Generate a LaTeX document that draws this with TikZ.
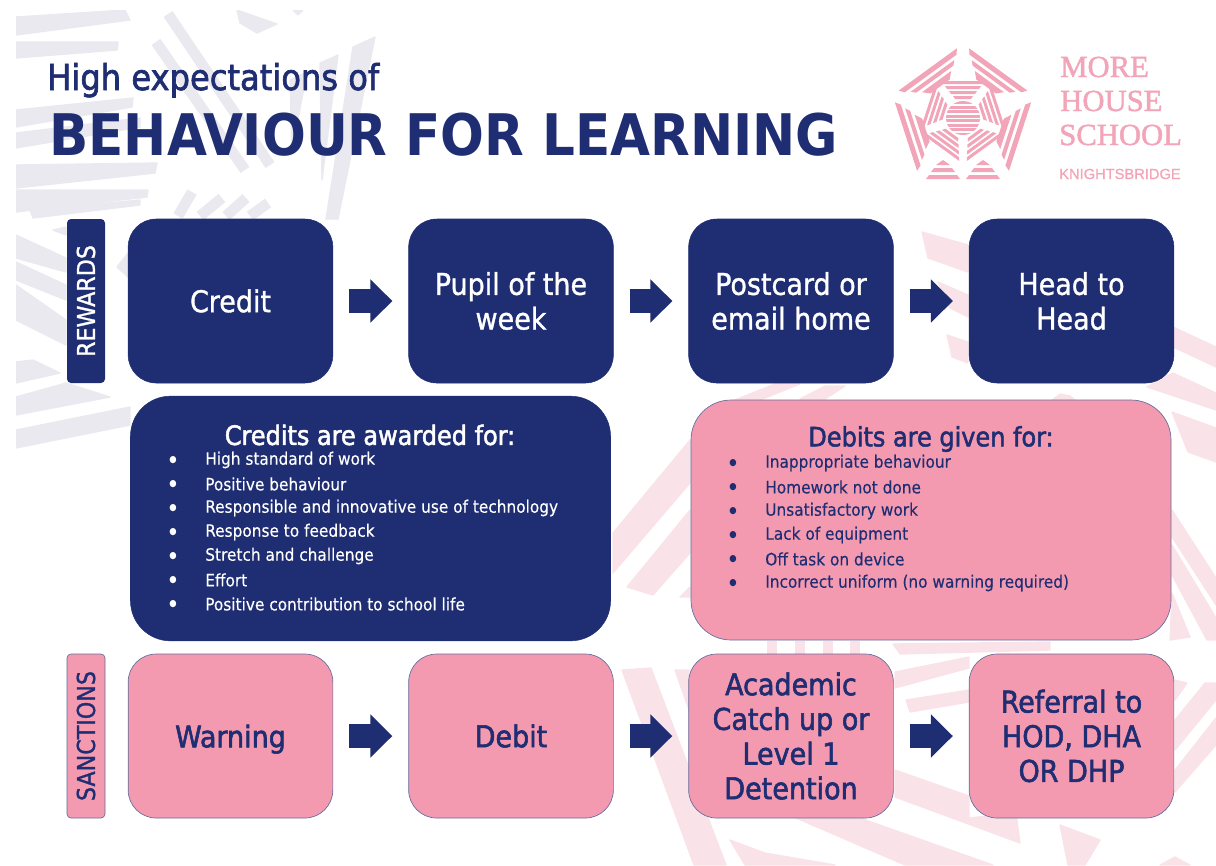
\documentclass[tikz,border=0pt]{standalone}
\usepackage{fontspec}
\setmainfont{DejaVu Sans Condensed}
\newfontfamily\medf{DejaVu Sans Condensed}[FakeBold=1.1]
\newfontfamily\heavyf{DejaVu Sans Condensed}[FakeBold=1.9]
\newfontfamily\lightf{DejaVu Sans Condensed}[FakeBold=0.25]
\newfontfamily\logoserif{Liberation Serif}[FakeBold=1.5]
\newfontfamily\logosans{Liberation Sans}[FakeBold=1]
\usetikzlibrary{arrows.meta}
\definecolor{navy}{HTML}{1F2D72}
\definecolor{rose}{HTML}{F49AB0}
\definecolor{wmgrey}{HTML}{E9E9EF}
\definecolor{wmpink}{HTML}{F9E3E8}
\definecolor{logopink}{HTML}{F2A5B8}
\tikzset{x=0.75pt,y=-0.75pt,
  navybox/.style={draw=navy,fill=navy,text=white,rounded corners=21pt,minimum width=153.5pt,minimum height=123pt,inner sep=0pt,align=center,font=\medf\fontsize{22.5}{26}\selectfont},
  rosebox/.style={draw=navy!70,line width=.5pt,fill=rose,text=navy,rounded corners=21pt,minimum width=153.5pt,minimum height=123pt,inner sep=0pt,align=center,font=\heavyf\fontsize{22.5}{26}\selectfont},
  tagbox/.style={rounded corners=3pt,minimum width=123pt,minimum height=28.5pt,inner sep=0pt,rotate=90,font=\medf\fontsize{18.5}{22}\selectfont},
  flow/.style={draw=navy,line width=18pt,shorten <=12pt,shorten >=12pt,-{Triangle[length=16.5pt,width=31.5pt]}},
  wmgl/.style={draw=wmgrey,line width=8pt},
  wmgf/.style={fill=wmgrey,draw=wmgrey,line width=1pt,line join=round},
  wmpl/.style={draw=wmpink,line width=8pt},
  wmpf/.style={fill=wmpink,draw=wmpink,line width=1pt,line join=round},
  listw/.style={anchor=west,text=white,inner sep=0pt,font=\lightf\fontsize{12.8}{15}\selectfont},
  listn/.style={anchor=west,text=navy,inner sep=0pt,font=\lightf\fontsize{12.8}{15}\selectfont},
  bulw/.style={text=white,inner sep=0pt,font=\fontsize{7}{8}\selectfont},
  buln/.style={text=navy,inner sep=0pt,font=\fontsize{7}{8}\selectfont},
  headw/.style={text=white,inner sep=0pt,font=\heavyf\fontsize{20}{22}\selectfont},
  headn/.style={text=navy,inner sep=0pt,font=\heavyf\fontsize{20}{22}\selectfont},
  logostripe/.style={fill=logopink,draw=none},
  logotext/.style={anchor=base west,text=logopink,inner sep=0pt}
}
\begin{document}
\begin{tikzpicture}
\useasboundingbox (0,0) rectangle (1216,865);
% watermark
\begin{scope}
\clip (16,10) rectangle (1216,865);
% grey bands
\fill[wmgf] (16,17) -- (125,10) -- (130,20) -- (16,35) -- cycle;
\fill[wmgf] (16,42) -- (118,42) -- (117,50) -- (16,58) -- cycle;
\fill[wmgf] (16,110) -- (133,98) -- (132,107) -- (16,127) -- cycle;
\fill[wmgf] (16,133) -- (140,118) -- (140,127) -- (16,148) -- cycle;
\fill[wmgf] (16,165) -- (157,163) -- (155,173) -- (16,188) -- cycle;
\fill[wmgf] (16,190) -- (148,190) -- (147,197) -- (16,212) -- cycle;
\fill[wmgf] (30,210) -- (140,200) -- (140,205) -- (33,218) -- cycle;
\fill[wmgf] (53,230) -- (66,227) -- (66,235) -- cycle;
\fill[wmgf] (16,235) -- (66,258) -- (66,272) -- (16,258) -- cycle;
\fill[wmgf] (16,262) -- (66,285) -- (66,300) -- (16,280) -- cycle;
\fill[wmgf] (16,285) -- (66,320) -- (66,345) -- (16,320) -- cycle;
\fill[wmgf] (16,362) -- (33,360) -- (60,373) -- (16,383) -- cycle;
\fill[wmgf] (16,397) -- (66,383) -- (110,397) -- (16,415) -- cycle;
\fill[wmgf] (16,430) -- (130,407) -- (130,425) -- (16,448) -- cycle;
\fill[wmgf] (117,267) -- (128,253) -- (128,277) -- cycle;
\fill[wmgf] (237,10) -- (277,24) -- (257,33) -- (240,23) -- cycle;
\fill[wmgf] (293,10) -- (303,10) -- (298,15) -- cycle;
\fill[wmgf] (353,47) -- (375,37) -- (338,219) -- (326,219) -- cycle;
\fill[wmgf] (320,63) -- (338,55) -- (322,180) -- cycle;
\fill[wmgf] (290,80) -- (307,72) -- (292,150) -- cycle;
\foreach \a/\b/\c/\d in {168/14/270/165, 156/42/245/170, 178/216/192/192, 200/216/222/198, 226/216/246/198, 250/216/268/203}
  \draw[wmgl] (\a,\b) -- (\c,\d);
% pink bands
\fill[wmpf] (922,232) -- (928,258) -- (968,272) -- (968,245) -- cycle;
\fill[wmpf] (1173,327) -- (1216,347) -- (1216,367) -- (1173,347) -- cycle;
\fill[wmpf] (947,335) -- (952,357) -- (968,363) -- (968,342) -- cycle;
\fill[wmpf] (938,282) -- (968,295) -- (968,317) -- (950,308) -- cycle;
\fill[wmpf] (1173,373) -- (1216,393) -- (1216,410) -- (1147,387) -- cycle;
\fill[wmpf] (1172,412) -- (1216,428) -- (1216,462) -- (1188,452) -- cycle;
\fill[wmpf] (613,533) -- (690,440) -- (690,483) -- (613,573) -- cycle;
\fill[wmpf] (627,587) -- (653,595) -- (690,553) -- (690,510) -- cycle;
\fill[wmpf] (680,597) -- (690,587) -- (690,597) -- cycle;
\fill[wmpf] (1172,510) -- (1216,578) -- (1216,605) -- (1172,537) -- cycle;
\fill[wmpf] (1172,545) -- (1216,618) -- (1216,640) -- (1207,640) -- (1172,575) -- cycle;
\fill[wmpf] (1172,593) -- (1190,637) -- (1170,640) -- cycle;
\fill[wmpf] (1175,680) -- (1187,683) -- (1175,700) -- cycle;
\fill[wmpf] (1175,720) -- (1205,683) -- (1216,683) -- (1216,700) -- (1175,750) -- cycle;
\fill[wmpf] (1175,770) -- (1216,718) -- (1216,745) -- (1175,792) -- cycle;
\fill[wmpf] (622,670) -- (651,668) -- (726,865) -- (694,865) -- cycle;
\fill[wmpf] (675,670) -- (689,670) -- (689,710) -- cycle;
\fill[wmpf] (730,840) -- (765,853) -- (835,865) -- (745,865) -- cycle;
\fill[wmpf] (796,818) -- (860,818) -- (993,865) -- (905,865) -- cycle;
\fill[wmpf] (895,770) -- (969,796) -- (969,818) -- (1016,813) -- (1020,843) -- (895,797) -- cycle;
\fill[wmpf] (895,672) -- (969,657) -- (969,668) -- (895,688) -- cycle;
\fill[wmpf] (906,700) -- (969,690) -- (969,702) -- (910,712) -- cycle;
\fill[wmpf] (893,644) -- (1050,642) -- (1050,650) -- (900,654) -- cycle;
\fill[wmpf] (1060,825) -- (1100,840) -- (1085,865) -- (1068,865) -- cycle;
\fill[wmpf] (1175,857) -- (1190,865) -- (1160,865) -- cycle;
\fill[wmpf] (735,400) -- (775,384) -- (800,384) -- (760,400) -- cycle;
\fill[wmpf] (800,399) -- (825,386) -- (845,386) -- (825,399) -- cycle;
\fill[wmpf] (1052,400) -- (1060,394) -- (1070,396) -- (1075,400) -- cycle;
\foreach \a in {772,800,828,855}
  \draw[wmpl] (\a,641) -- (\a,654);
\end{scope}
% title
\node[anchor=base west,text=navy,inner sep=0pt,font=\heavyf\fontsize{26.8}{28}\selectfont] (title1) at (47,90) {High expectations of};
\node[anchor=base west,text=navy,inner sep=0pt,font=\bfseries\fontsize{43}{50}\selectfont] (title2) at (49,155) {BEHAVIOUR FOR LEARNING};
% logo
\foreach \k in {0,72,144,216,288}{
  \begin{scope}[rotate around={\k:(963,118)}]
   \fill[logostripe] (941,81) -- (985,81) -- (983,84) -- (943,84) -- cycle;
   \fill[logostripe] (945,86) -- (981,86) -- (979,89) -- (947,89) -- cycle;
   \fill[logostripe] (949,91) -- (977,91) -- (975,94) -- (951,94) -- cycle;
   \fill[logostripe] (953,96) -- (973,96) -- (971,99) -- (955,99) -- cycle;
  \end{scope}}
\foreach \k in {72,144,216,288}{
  \begin{scope}[rotate around={\k:(963,118)}]
   \fill[logostripe] (927,178) -- (999,178) -- (995,173) -- (931,173) -- cycle;
   \fill[logostripe] (936,170) -- (990,170) -- (986,166) -- (940,166) -- cycle;
   \fill[logostripe] (945,163) -- (981,163) -- (975,157) -- (951,157) -- cycle;
  \end{scope}}
\foreach \s in {-1,1}{
  \begin{scope}[xshift={\s*0.75pt*20}]
   \fill[logostripe] (946,179) -- (980,179) -- (977,175) -- (949,175) -- cycle;
   \fill[logostripe] (951,172) -- (975,172) -- (972,168) -- (954,168) -- cycle;
   \fill[logostripe] (956,165) -- (970,165) -- (963,160) -- cycle;
  \end{scope}}
\begin{scope}
  \clip (963,118) circle (17);
  \foreach \y in {101,105.5,...,136} \fill[logostripe] (945,\y) rectangle (981,\y+3);
\end{scope}
\node[logotext,font=\logoserif\fontsize{23}{24}\selectfont] (more) at (1060,77) {MORE};
\node[logotext,font=\logoserif\fontsize{23}{24}\selectfont] (house) at (1060,111) {HOUSE};
\node[logotext,font=\logoserif\fontsize{23}{24}\selectfont] (school) at (1059,145) {SCHOOL};
\node[logotext,font=\logosans\fontsize{11}{13}\selectfont] (kb) at (1059,179) {KNIGHTSBRIDGE};
% tags
\node[tagbox,fill=navy,text=white] (tagr) at (86,301) {REWARDS};
\node[tagbox,fill=rose,draw=navy!70,line width=.5pt,text=navy] (tags) at (86,736) {SANCTIONS};
% top row
\node[navybox] (r1) at (230.5,301) {Credit};
\node[navybox] (r2) at (511,301) {Pupil of the\\week};
\node[navybox] (r3) at (791,301) {Postcard or\\email home};
\node[navybox] (r4) at (1071.5,301) {Head to\\Head};
\draw[flow] (r1) -- (r2);
\draw[flow] (r2) -- (r3);
\draw[flow] (r3) -- (r4);
% bottom row
\node[rosebox,text depth=0pt] (s1) at (230.5,736) {Warning};
\node[rosebox] (s2) at (511,736) {Debit};
\node[rosebox] (s3) at (791,736) {Academic\\Catch up or\\Level 1\\Detention};
\node[rosebox] (s4) at (1071.5,736) {Referral to\\HOD, DHA\\OR DHP};
\draw[flow] (s1) -- (s2);
\draw[flow] (s2) -- (s3);
\draw[flow] (s3) -- (s4);
% panels
\node[draw=navy,fill=navy,rounded corners=30pt,minimum width=360pt,minimum height=183.5pt,inner sep=0pt] (credits) at (370.5,518.5) {};
\node[draw=navy!70,line width=.5pt,fill=rose,rounded corners=30pt,minimum width=360pt,minimum height=180pt,inner sep=0pt] (debits) at (931,520) {};
\node[headw] (chead) at (370,435) {Credits are awarded for:};
\node[headn] (dhead) at (931,439) {Debits are given for:};
\foreach \n/\y/\t in {1/460/High standard of work, 2/484/Positive behaviour, 3/508/Responsible and innovative use of technology, 4/532/Response to feedback, 5/556/Stretch and challenge, 6/580/Effort, 7/604/Positive contribution to school life}{
  \node[bulw] (cb\n) at (173,\y) {●};
  \node[listw] (ct\n) at (205,\y) {\t};
}
\foreach \n/\y/\t in {1/463/Inappropriate behaviour, 2/487/Homework not done, 3/511/Unsatisfactory work, 4/535/Lack of equipment, 5/559/Off task on device, 6/583/Incorrect uniform (no warning required)}{
  \node[buln] (db\n) at (733,\y) {●};
  \node[listn] (dt\n) at (765,\y) {\t};
}
\end{tikzpicture}
\end{document}
